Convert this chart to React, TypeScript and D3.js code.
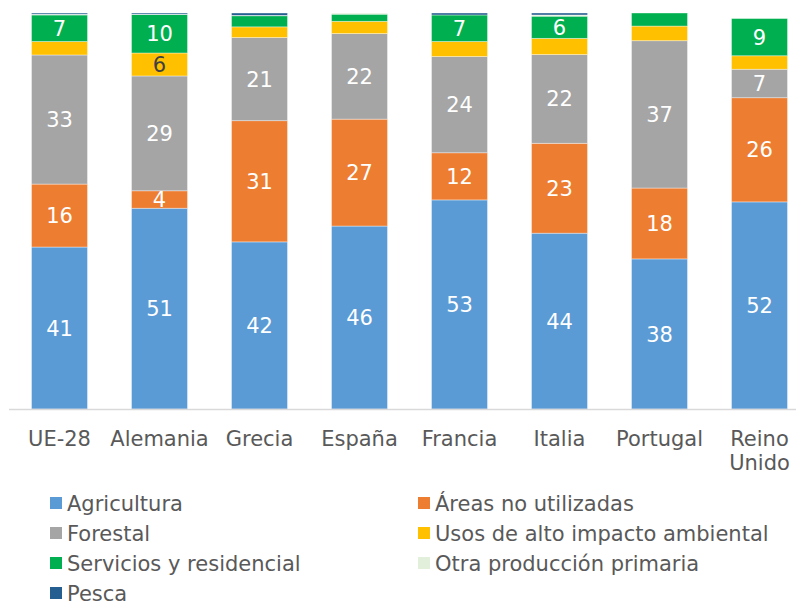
import React from "react";
import * as d3 from "d3";

const categories = ["UE-28", "Alemania", "Grecia", "España", "Francia", "Italia", "Portugal", "Reino Unido"];
const seriesNames = [
  "Agricultura",
  "Áreas no utilizadas",
  "Forestal",
  "Usos de alto impacto ambiental",
  "Servicios y residencial",
  "Otra producción primaria",
  "Pesca",
];
const agricultura = [40.9, 50.7, 42.2, 46.2, 52.8, 44.4, 37.9, 52.3];
const areasNoUtilizadas = [15.9, 4.4, 30.6, 27.0, 11.9, 22.7, 17.9, 26.3];
const forestal = [32.6, 29.0, 21.0, 21.6, 24.3, 22.4, 37.2, 7.2];
const usosAltoImpacto = [3.4, 5.8, 2.7, 3.1, 3.8, 4.1, 3.7, 3.4];
const serviciosResidencial = [6.7, 9.7, 2.8, 1.8, 6.7, 5.6, 3.3, 9.4];
const otraProduccion = [0.2, 0.1, 0.1, 0.3, 0.0, 0.3, 0.0, 0.0];
const pesca = [0.3, 0.3, 0.6, 0.0, 0.5, 0.5, 0.0, 0.0];

const seriesValues = [agricultura, areasNoUtilizadas, forestal, usosAltoImpacto, serviciosResidencial, otraProduccion, pesca];
const colors = ["#5B9BD5", "#ED7D31", "#A5A5A5", "#FFC000", "#00B050", "#E2EFDA", "#255E91"];
const labelColors = ["#ffffff", "#ffffff", "#ffffff", "#404040", "#ffffff", "#404040", "#ffffff"];

const W = 796;
const H = 602;
const FONT = "'DejaVu Sans', Verdana, sans-serif";

export default function App() {
  const x = d3.scaleBand<string>().domain(categories).range([9.5, 809.5]).paddingInner(0.44).paddingOuter(0.22);
  const y = d3.scaleLinear().domain([0, 100]).range([409, 13]);

  const table = categories.map((c, i) => {
    const row: any = { cat: c };
    seriesNames.forEach((s, k) => (row[s] = seriesValues[k][i]));
    return row;
  });
  const stacked = d3.stack<any>().keys(seriesNames)(table);

  return (
    <div style={{ position: "absolute", left: 0, top: 0 }}>
      <svg width={W} height={H} style={{ display: "block", fontFamily: FONT }}>
        <rect width={W} height={H} fill="#fff" />
        {stacked.map((layer, k) => (
          <g key={layer.key}>
            {layer.map((d, i) => {
              const y0 = y(d[0]);
              const y1 = y(d[1]);
              const h = y0 - y1;
              if (h <= 0) return null;
              return (
                <rect
                  key={i}
                  x={x(categories[i])}
                  y={y1}
                  width={x.bandwidth()}
                  height={h}
                  fill={colors[k]}
                  stroke="#ffffff"
                  strokeOpacity={0.5}
                  strokeWidth={0.75}
                />
              );
            })}
          </g>
        ))}
        {stacked.map((layer, k) => (
          <g key={"l" + layer.key}>
            {layer.map((d, i) => {
              const v = d[1] - d[0];
              if (v < 4.25) return null;
              return (
                <text
                  key={i}
                  x={(x(categories[i]) as number) + x.bandwidth() / 2}
                  y={(y(d[0]) + y(d[1])) / 2}
                  dy="0.36em"
                  textAnchor="middle"
                  fontSize={21}
                  fill={labelColors[k]}
                >
                  {Math.round(v)}
                </text>
              );
            })}
          </g>
        ))}
        <line x1={9} x2={W} y1={409.5} y2={409.5} stroke="#D9D9D9" strokeWidth={1.5} />
        {categories.map((c) => {
          const cx = (x(c) as number) + x.bandwidth() / 2;
          const parts = c === "Reino Unido" ? ["Reino", "Unido"] : [c];
          return (
            <text key={c} x={cx} y={446} textAnchor="middle" fontSize={21} fill="#595959">
              {parts.map((p, j) => (
                <tspan key={j} x={cx} dy={j === 0 ? 0 : 24}>
                  {p}
                </tspan>
              ))}
            </text>
          );
        })}
        {seriesNames.map((s, k) => {
          const col = k % 2;
          const row = Math.floor(k / 2);
          const sx = col === 0 ? 50 : 418;
          const by = 511 + row * 30;
          return (
            <g key={s}>
              <rect x={sx} y={by - 14} width={12} height={12} fill={colors[k]} />
              <text x={sx + 17} y={by} fontSize={21} fill="#595959">
                {s}
              </text>
            </g>
          );
        })}
      </svg>
    </div>
  );
}
